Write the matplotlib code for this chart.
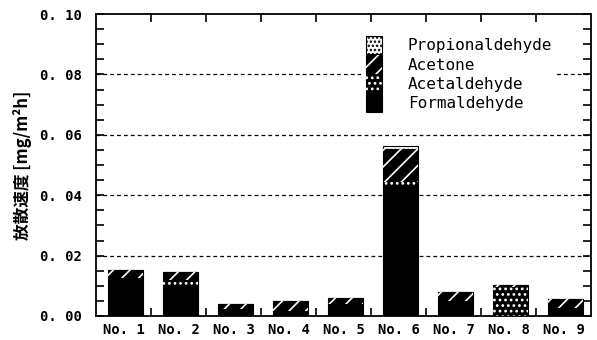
import matplotlib
matplotlib.use('Agg')
import matplotlib.pyplot as plt
from matplotlib.patches import Patch
from matplotlib.ticker import MultipleLocator, FixedLocator
import numpy as np

# emission rates per sample (mg/m2h)
categories = ['No. 1', 'No. 2', 'No. 3', 'No. 4', 'No. 5', 'No. 6', 'No. 7', 'No. 8', 'No. 9']
formaldehyde = [0.0125, 0.0098, 0.0022, 0.0015, 0.0040, 0.0430, 0.0050, 0.0000, 0.0025]
acetaldehyde = [0.0000, 0.0020, 0.0000, 0.0000, 0.0000, 0.0013, 0.0000, 0.0095, 0.0000]
acetone = [0.0026, 0.0029, 0.0018, 0.0035, 0.0019, 0.0109, 0.0029, 0.0008, 0.0031]
propionaldehyde = [0.0000, 0.0000, 0.0000, 0.0000, 0.0000, 0.0012, 0.0000, 0.0000, 0.0000]
yticklabels = ['0. 00', '0. 02', '0. 04', '0. 06', '0. 08', '0. 10']

mono = 'DejaVu Sans Mono'
plt.rcParams['hatch.linewidth'] = 1.2

fig = plt.figure(figsize=(5.97, 3.4), dpi=100)
ax = fig.add_axes([0.161, 0.0706, 0.829, 0.888])

x = np.arange(len(categories))
w = 0.64
# (values, face, hatch, hatch colour, label)
layers = [
    (formaldehyde, 'black', None, None, 'Formaldehyde'),
    (acetaldehyde, 'black', '...', 'white', 'Acetaldehyde'),
    (acetone, 'black', '//', 'white', 'Acetone'),
    (propionaldehyde, 'white', '....', 'black', 'Propionaldehyde'),
]
bottom = np.zeros(len(categories))
handles = []
for vals, face, hatch, hcol, lab in layers:
    vals = np.array(vals)
    ax.bar(x + 0.03, vals, w, bottom=bottom, color=face, edgecolor='black',
           linewidth=0.8, zorder=3)
    if hatch:
        ax.bar(x + 0.03, vals, w, bottom=bottom, facecolor='none', edgecolor=hcol,
               linewidth=0, hatch=hatch, zorder=4)
        h = (Patch(facecolor=face, edgecolor='black', linewidth=0.8),
             Patch(facecolor='none', edgecolor=hcol, linewidth=0, hatch=hatch))
    else:
        h = Patch(facecolor=face, edgecolor='black', linewidth=0.8)
    handles.append(h)
    bottom += vals

ax.set_xlim(-0.5, len(categories) - 0.5)
ax.set_ylim(0, 0.10)

ax.yaxis.set_minor_locator(MultipleLocator(0.005))
ax.set_yticks(np.arange(0, 0.101, 0.02))
ax.set_yticklabels(yticklabels, fontfamily=mono, fontweight='bold', fontsize=10)
ax.set_xticks(x)
ax.set_xticklabels(categories, fontfamily=mono, fontweight='bold', fontsize=10)
ax.xaxis.set_minor_locator(FixedLocator(np.arange(0.5, len(categories) - 1, 1)))

ax.tick_params(axis='x', which='major', length=0, pad=5)
ax.tick_params(axis='x', which='minor', length=6, width=1.2, direction='in', top=True)
ax.tick_params(axis='y', which='both', length=6, width=1.2, direction='in', right=True, pad=10)

for s in ax.spines.values():
    s.set_linewidth(1.3)

for yv in [0.02, 0.04, 0.06, 0.08]:
    ax.axhline(yv, color='black', linestyle=(0, (3, 2.5)), linewidth=0.9, zorder=1)

ax.set_ylabel('放散速度 [mg/m²h]', family=['Noto Sans CJK JP', 'DejaVu Sans'],
              fontweight='bold', fontsize=12, labelpad=6)

leg = ax.legend(handles[::-1], [l[4] for l in layers][::-1], loc='upper left',
                bbox_to_anchor=(0.52, 0.97), frameon=True, framealpha=1,
                facecolor='white', edgecolor='none', fancybox=False,
                handlelength=1.0, handleheight=1.4, handletextpad=1.6,
                labelspacing=0.05, borderpad=0.3,
                prop={'family': mono, 'size': 11.5})
leg.set_zorder(5)

fig.savefig('out.png', dpi=100)
